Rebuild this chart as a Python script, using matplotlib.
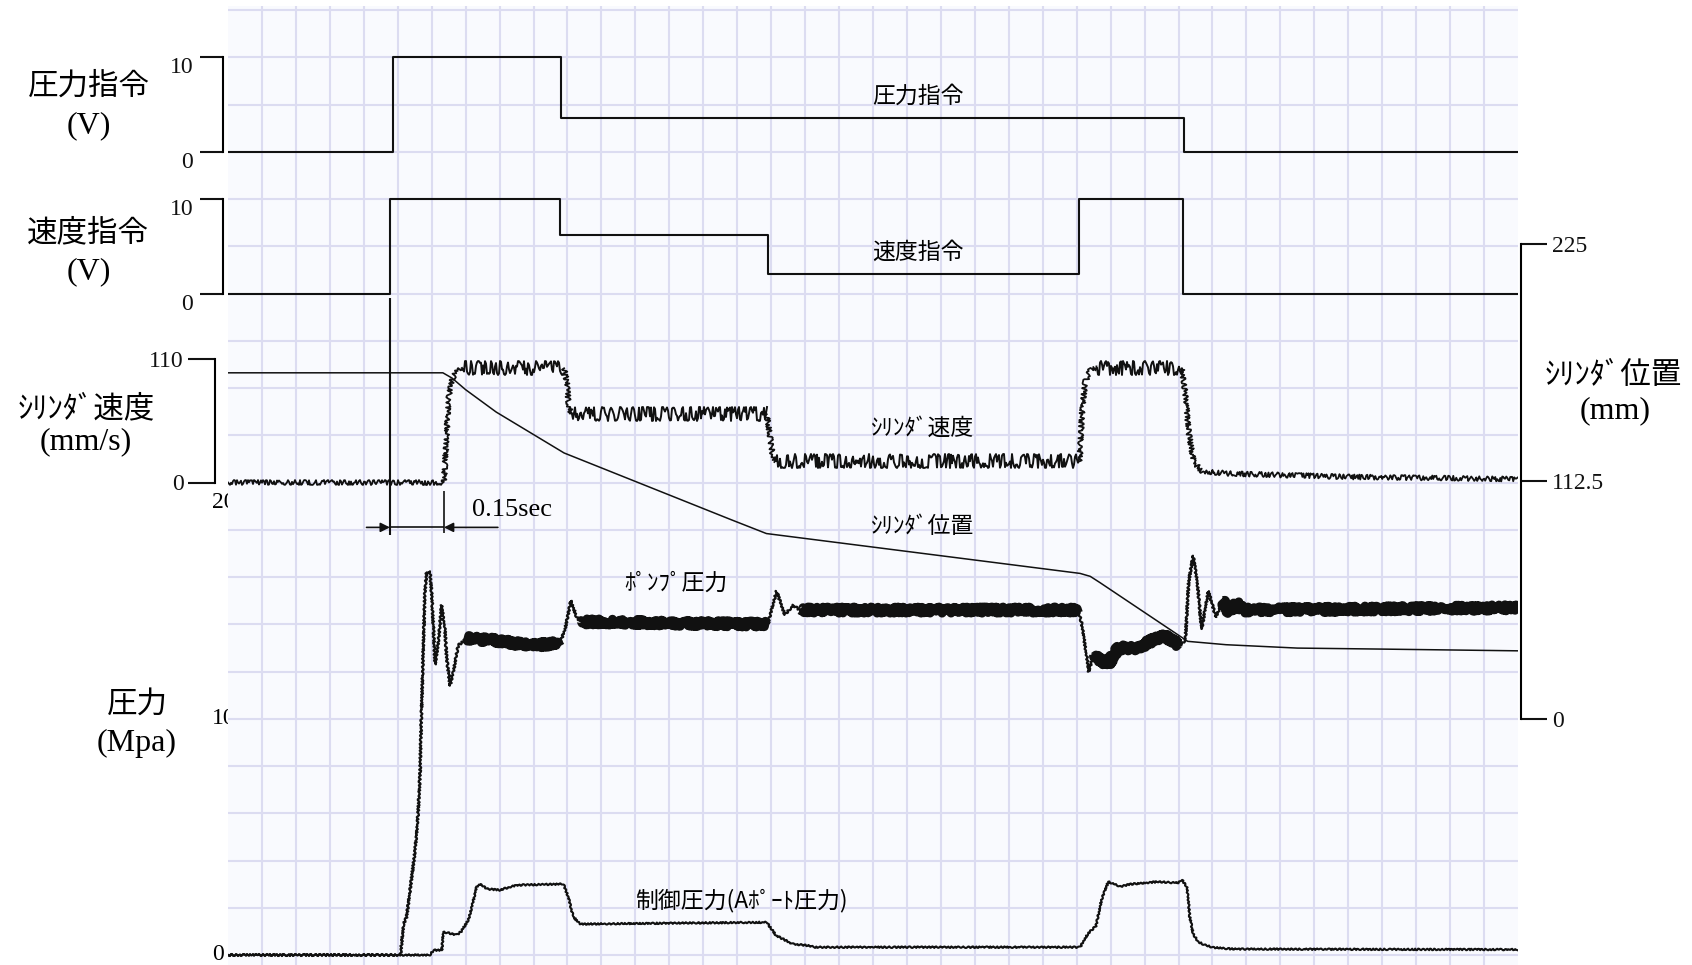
import numpy as np
import matplotlib.pyplot as plt
from matplotlib.transforms import blended_transform_factory

plt.rcParams['font.family'] = ['Noto Sans CJK JP', 'DejaVu Sans']
SERIF = ['Liberation Serif', 'Noto Sans CJK JP']

# ---- values, time in s (one grid column = 0.1 s) ----
# commands (V): level held from each switching time on
pcmd_t = [0.0, 0.485, 0.982, 2.815, 3.8]
pcmd_v = [0, 10, 3.6, 0, 0]
vcmd_t = [0.0, 0.477, 0.978, 1.592, 2.506, 2.812, 3.8]
vcmd_v = [0, 10, 6.2, 2.1, 10, 0, 0]

# cylinder velocity (mm/s)
vel_t = [0.0, 0.636, 0.644, 0.649, 0.657, 0.669, 0.69, 0.84, 0.99, 0.998, 1.004, 1.012,
         1.30, 1.587, 1.595, 1.604, 1.614, 2.06, 2.509, 2.515, 2.525, 2.54, 2.56, 2.68,
         2.81, 2.82, 2.83, 2.845, 2.87, 2.95, 3.3, 3.8]
vel_v = [0, 0, 41, 74, 89, 98, 102, 102, 102, 90, 68, 61,
         61, 61, 45, 25, 19, 19, 19, 60, 90, 100, 102, 102,
         102, 80, 45, 18, 10, 8, 5, 3]
vel_steady = [(0.69, 0.99), (1.012, 1.587), (1.614, 2.509), (2.56, 2.81)]

# cylinder position (mm)
pos_t = [0.0, 0.633, 0.66, 0.70, 0.79, 0.99, 1.48, 1.586, 2.51, 2.54, 2.568, 2.827,
         2.94, 3.15, 3.41, 3.8]
pos_v = [164, 164, 161.5, 156, 145.4, 126, 94.5, 87.8, 68.9, 67.5, 64.6, 36.7,
         35.1, 33.5, 33, 32.2]

# pump pressure (MPa)
pump_t = [0.0, 0.508, 0.517, 0.526, 0.551, 0.56, 0.566, 0.57, 0.575, 0.58,
          0.585, 0.595, 0.60, 0.605, 0.61, 0.62, 0.629, 0.639, 0.644, 0.654,
          0.664, 0.678, 0.703, 0.80, 0.89, 0.978, 0.993, 1.01, 1.027, 1.037,
          1.10, 1.30, 1.59, 1.616, 1.64, 1.665, 1.685, 1.80, 2.505, 2.515,
          2.53, 2.535, 2.55, 2.59, 2.625, 2.68, 2.72, 2.76, 2.805, 2.82,
          2.83, 2.843, 2.855, 2.868, 2.888, 2.90, 2.91, 2.93, 2.95, 2.97,
          2.99, 3.8]
pump_p = [0, 0, 1.3, 1.6, 4.4, 6.0, 7.8, 10.3, 12.9, 15.3,
          16.2, 16.2, 15.3, 13.9, 12.3, 13.3, 14.8, 13.8, 12.6, 11.4,
          12.0, 13.1, 13.4, 13.3, 13.1, 13.2, 13.8, 15.0, 14.3, 14.1,
          14.1, 14.05, 14.0, 15.4, 14.4, 14.8, 14.6, 14.6, 14.6, 14.0,
          12.6, 12.0, 12.7, 12.3, 13.0, 13.0, 13.3, 13.5, 13.1, 13.3,
          15.8, 16.9, 15.8, 13.8, 15.4, 14.8, 14.3, 15.0, 14.5, 14.9,
          14.6, 14.7]
pump_steady = [(0.703, 0.978), (1.037, 1.59), (1.685, 2.505), (2.55, 2.805), (2.93, 3.8)]

# control pressure, A port (MPa)
ctrl_t = [0.0, 0.595, 0.605, 0.630, 0.634, 0.674, 0.687, 0.708, 0.718, 0.732,
          0.745, 0.762, 0.80, 0.85, 0.988, 1.002, 1.017, 1.037, 1.11, 1.55,
          1.587, 1.615, 1.663, 1.71, 1.73, 2.51, 2.533, 2.557, 2.573, 2.593,
          2.628, 2.66, 2.74, 2.80, 2.809, 2.824, 2.828, 2.833, 2.843, 2.858,
          2.878, 2.902, 2.961, 3.8]
ctrl_p = [0, 0, 0.2, 0.2, 0.98, 0.85, 1.0, 1.48, 2.0, 2.9,
          3.0, 2.8, 2.75, 2.96, 3.0, 2.47, 1.62, 1.31, 1.32, 1.38,
          1.38, 0.82, 0.47, 0.4, 0.33, 0.33, 0.9, 1.24, 2.33, 3.1,
          2.9, 3.0, 3.1, 3.05, 3.2, 2.9, 2.46, 1.62, 0.9, 0.56,
          0.42, 0.32, 0.25, 0.23]

# scale ticks
cmd_ticks = [0, 10]
vel_ticks = [0, 110]
pos_ticks = [0, 112.5, 225]
press_ticks = [0, 10, 20]
delay_t = [0.477, 0.636]   # command step -> start of cylinder motion

# ---- layout (pixels of the 1692x965 canvas) ----
W, H = 1692, 965
ROW = 47.25                      # grid row height
LO, HI = (955 - 965) / ROW, (955 - 6) / ROW
RECT = [228 / W, 0, 1290 / W, 959 / H]
PT = 0.72                        # points per pixel at 100 dpi
INK = '#111111'

fig = plt.figure(figsize=(W / 100, H / 100), dpi=100)


def overlay(zero_row, per_row, z):
    a = fig.add_axes(RECT, zorder=z)
    a.set_xlim(0, 3.8)
    a.set_ylim((LO - zero_row) * per_row, (HI - zero_row) * per_row)
    a.patch.set_visible(False)
    for s in a.spines.values():
        s.set_visible(False)
    a.set_xticks([])
    a.set_yticks([])
    return a


def bracket(a, side, ticks, offset, length, pad, va=None):
    sp = a.spines[side]
    sp.set_visible(True)
    sp.set_position(('outward', offset * PT))
    sp.set_bounds(min(ticks), max(ticks))
    sp.set_linewidth(1.5)
    a.yaxis.set_ticks_position(side)
    a.set_yticks(ticks)
    a.set_yticklabels([f'{v:g}' for v in ticks], family=SERIF, fontsize=17)
    a.tick_params(axis='y', direction='out', length=length * PT, width=1.5,
                  pad=pad * PT, colors=INK)
    if va:
        for lab in a.get_yticklabels():
            lab.set_va(va)


def split(t, v, windows):
    t = np.asarray(t, float)
    v = np.asarray(v, float)
    inside = np.zeros(len(t), bool)
    interior = np.zeros(len(t), bool)
    for a, b in windows:
        inside |= (t >= a) & (t <= b)
        interior |= (t > a) & (t < b)
    return np.where(inside, v, np.nan), np.where(interior, np.nan, v)


# pressure scale labels sit under the chart paper
ax_pl = overlay(0, 2, 0)
tr = blended_transform_factory(ax_pl.transAxes, ax_pl.transData)
for v, dy in zip(press_ticks, [0, 0, -20]):
    ax_pl.annotate(f'{v}', xy=(-16 / 1290, v), xycoords=tr, xytext=(0, dy),
                   textcoords='offset pixels', ha='left', va='center',
                   family=SERIF, fontsize=17, annotation_clip=False)

# chart paper
ax = fig.add_axes(RECT, zorder=1)
ax.set_facecolor('#f9fafe')
ax.set_xlim(0, 3.8)
ax.set_ylim(LO, HI)
ax.set_xticks(np.arange(1, 38) / 10)
ax.set_yticks(np.arange(0, 21))
ax.grid(True, color='#dcdcf1', lw=1.5)
ax.tick_params(length=0, labelbottom=False, labelleft=False)
for s in ax.spines.values():
    s.set_visible(False)

# command traces
ax_pc = overlay(17, 5, 3)
ax_pc.step(pcmd_t, pcmd_v, where='post', color=INK, lw=1.5)
bracket(ax_pc, 'left', cmd_ticks, 5.3, 23.4, 6, va='top')

ax_vc = overlay(14, 5, 3)
ax_vc.step(vcmd_t, vcmd_v, where='post', color=INK, lw=1.5)
bracket(ax_vc, 'left', cmd_ticks, 5.3, 23.4, 6, va='top')

# cylinder velocity (ripple drawn as a sketch style)
ax_v = overlay(10, 110 / 2.607, 4)
steady, moving = split(vel_t, vel_v, vel_steady)
ln, = ax_v.plot(vel_t, moving, color=INK, lw=1.3)
ln.set_sketch_params(2.5, 3, 4)
ln, = ax_v.plot(vel_t, steady, color=INK, lw=1.4)
ln.set_sketch_params(7, 5, 6)
bracket(ax_v, 'left', vel_ticks, 13, 27.3, 4)

# cylinder position
ax_x = overlay(5, 22.4, 4)
ax_x.plot(pos_t, pos_v, color=INK, lw=1.1)
bracket(ax_x, 'right', pos_ticks, 3, 25.7, 5)

# pressures
ax_p = overlay(0, 2, 5)
ln, = ax_p.plot(pump_t, pump_p, color=INK, lw=1.6)
ln.set_sketch_params(1, 4, 2)
band, _ = split(pump_t, pump_p, pump_steady)
ln, = ax_p.plot(pump_t, band, color=INK, lw=6.5, solid_capstyle='butt')
ln.set_sketch_params(3, 1, 3)
ln, = ax_p.plot(ctrl_t, ctrl_p, color=INK, lw=1.5)
ln.set_sketch_params(0.8, 4, 2)

# 0.15 s delay mark (grid-row units)
ax.vlines(delay_t[0], 8.89, 13.9, color=INK, lw=1.5)
ax.vlines(delay_t[1], 8.93, 9.81, color=INK, lw=1.2)
ax.hlines(9.05, delay_t[0], delay_t[1], color=INK, lw=1.2)
arrow = dict(arrowstyle='-|>', color=INK, lw=1.2, mutation_scale=14, shrinkA=0, shrinkB=0)
ax.annotate('', xy=(delay_t[0], 9.05), xytext=(delay_t[0] - 0.069, 9.05), arrowprops=arrow)
ax.annotate('', xy=(delay_t[1], 9.05), xytext=(delay_t[1] + 0.159, 9.05), arrowprops=arrow)
ax.text(0.718, 9.42, '0.15sec', family=SERIF, fontsize=19, ha='left', va='center')

# trace names on the chart
for s, x, y in [('圧力指令', 2.032, 18.18), ('速度指令', 2.032, 14.87),
                ('ｼﾘﾝﾀﾞ速度', 2.046, 11.14), ('ｼﾘﾝﾀﾞ位置', 2.046, 9.06),
                ('ﾎﾟﾝﾌﾟ圧力', 1.318, 7.87), ('制御圧力(Aﾎﾟｰﾄ圧力)', 1.511, 1.16)]:
    ax.text(x, y, s, fontsize=16.5, ha='center', va='center', zorder=6)

# scale titles
for s, x, y, fam, size in [('圧力指令', 89, 86, None, 22), ('(V)', 89, 126, SERIF, 23),
                           ('速度指令', 88, 233, None, 22), ('(V)', 89, 272, SERIF, 23),
                           ('ｼﾘﾝﾀﾞ速度', 86, 409, None, 22), ('(mm/s)', 86, 442, SERIF, 23),
                           ('圧力', 137, 704, None, 22), ('(Mpa)', 137, 743, SERIF, 23),
                           ('ｼﾘﾝﾀﾞ位置', 1613, 375, None, 22), ('(mm)', 1615, 411, SERIF, 23)]:
    kw = {'family': fam} if fam else {}
    fig.text(x / W, 1 - y / H, s, fontsize=size, ha='center', va='center', **kw)

fig.savefig('out.png', dpi=100)
